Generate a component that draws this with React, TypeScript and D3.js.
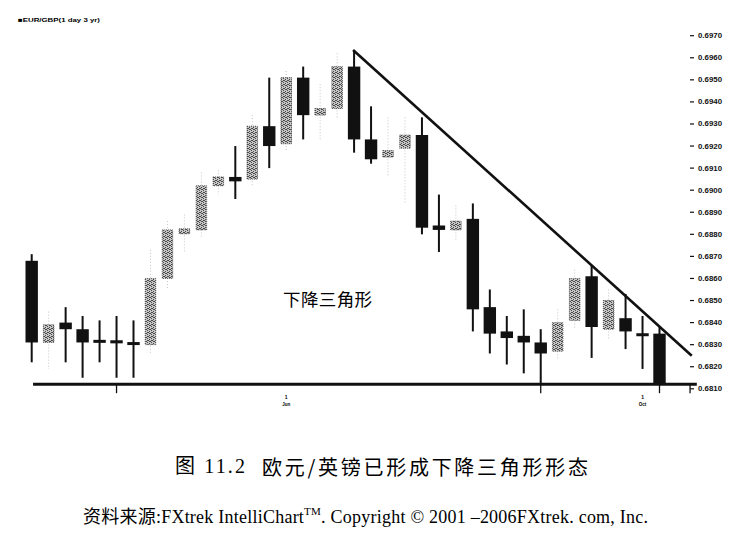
import React from "react";
import * as d3 from "d3";

// EUR/GBP daily candles (left to right)
const opens = [0.6868, 0.6831, 0.6840, 0.6837, 0.6832, 0.6832, 0.6831, 0.6830, 0.6860, 0.68815,
    0.6882, 0.6902, 0.6906, 0.6905, 0.6929, 0.6921, 0.6951, 0.6934, 0.6937, 0.6956,
    0.6923, 0.6915, 0.6919, 0.6925, 0.6884, 0.6882, 0.6887, 0.6847, 0.6836, 0.6834,
    0.6831, 0.6827, 0.6841, 0.6861, 0.6837, 0.6842, 0.6835, 0.6835];
const highs = [0.6871, 0.6845, 0.6847, 0.6843, 0.6841, 0.6843, 0.6841, 0.6873, 0.6886, 0.6889,
    0.6908, 0.6909, 0.6920, 0.6934, 0.6951, 0.6954, 0.6956, 0.6948, 0.6962, 0.69635,
    0.6938, 0.6933, 0.6933, 0.6933, 0.6898, 0.6893, 0.6894, 0.6855, 0.6843, 0.6846,
    0.6837, 0.6846, 0.6864, 0.6866, 0.6855, 0.6853, 0.6843, 0.6838];
const lows = [0.6822, 0.6819, 0.6822, 0.6815, 0.6822, 0.6815, 0.6815, 0.6826, 0.6855, 0.6872,
    0.6879, 0.6898, 0.6896, 0.6902, 0.6910, 0.6918, 0.6923, 0.6923, 0.6933, 0.6917,
    0.6912, 0.6906, 0.6894, 0.6880, 0.6872, 0.6877, 0.6836, 0.6826, 0.6821, 0.6817,
    0.6812, 0.6823, 0.6837, 0.6824, 0.6832, 0.6828, 0.6819, 0.6812];
const closes = [0.6831, 0.6839, 0.6837, 0.6831, 0.6831, 0.68306, 0.6830, 0.6860, 0.6882, 0.68825,
    0.6902, 0.6906, 0.6904, 0.6929, 0.6920, 0.6951, 0.6934, 0.6937, 0.6956, 0.6923,
    0.6914, 0.6918, 0.6925, 0.6883, 0.6882, 0.6886, 0.6846, 0.6835, 0.6833, 0.6831,
    0.6826, 0.6840, 0.6860, 0.6838, 0.6850, 0.6836, 0.6834, 0.6812];

// pattern lines: [candle index, price]
const supportLine = [[0.08, 0.68121], [39.2, 0.68121]];
const resistanceLine = [[18.94, 0.69635], [38.9, 0.6825]];

const priceTicks = d3.range(0, 17).map(i => 0.6810 + i * 0.001);
const dateTickIdx = [5, 30, 37, 38.8];
const dateLabelIdx = [15, 36];
const dateLabelTop = ["1", "1"];
const dateLabelBottom = ["Jun", "Oct"];

const chartTitle = "■EUR/GBP(1 day 3 yr)";
const patternLabel = "下降三角形";
const figureNo = "图 11.2";
const figureCaption = "欧元/英镑已形成下降三角形形态";

export default class App extends React.Component {
    public render() {
        return <svg id="candles" width={751} height={536}
            style={{ position: "absolute", left: 0, top: 0, background: "#fff" }}></svg>;
    }

    public componentDidMount() {
        this.draw();
    }

    private draw = (): void => {
        const svg = d3.select("#candles");
        svg.selectAll("*").remove();

        const x = d3.scaleLinear().domain([0, opens.length - 1]).range([31.7, 659.5]);
        const y = d3.scaleLinear().domain([0.6810, 0.6970]).range([388.8, 35.7]);

        // speckled fill for the up candles
        const pat = svg.append("defs").append("pattern")
            .attr("id", "speck").attr("patternUnits", "userSpaceOnUse")
            .attr("width", 4).attr("height", 4);
        pat.append("rect").attr("width", 4).attr("height", 4).attr("fill", "#c6c6c6");
        [[0, 0], [2, 1], [1, 3], [3, 2], [1, 1], [3, 0]].forEach(([px, py]) => {
            pat.append("rect").attr("x", px).attr("y", py).attr("width", 1).attr("height", 1).attr("fill", "#4a4a4a");
        });

        const data = opens.map((o, i) => ({ i, o, h: highs[i], l: lows[i], c: closes[i] }));
        const down = data.filter(d => d.c < d.o);
        const up = data.filter(d => d.c >= d.o);

        // up candles: faint dotted wicks, speckled bodies
        svg.append("g").selectAll("line").data(up).enter().append("line")
            .attr("x1", d => x(d.i)).attr("x2", d => x(d.i))
            .attr("y1", d => y(d.h)).attr("y2", d => y(d.l))
            .attr("stroke", "#c4c4c4").attr("stroke-width", 1).attr("stroke-dasharray", "1,2");
        svg.append("g").selectAll("rect").data(up).enter().append("rect")
            .attr("x", d => x(d.i) - 5.3).attr("width", 10.6)
            .attr("y", d => y(d.c))
            .attr("height", d => Math.max(5, y(d.o) - y(d.c)))
            .attr("fill", "url(#speck)")
            .attr("stroke", "#444").attr("stroke-width", 0.8).attr("stroke-dasharray", "1,1");

        // down candles: solid black
        svg.append("g").selectAll("line").data(down).enter().append("line")
            .attr("x1", d => x(d.i)).attr("x2", d => x(d.i))
            .attr("y1", d => y(d.h)).attr("y2", d => y(d.l))
            .attr("stroke", "#111").attr("stroke-width", 2);
        svg.append("g").selectAll("rect").data(down).enter().append("rect")
            .attr("x", d => x(d.i) - 6.2).attr("width", 12.4)
            .attr("y", d => Math.min(y(d.o), (y(d.o) + y(d.c)) / 2 - 1.5))
            .attr("height", d => Math.max(3, y(d.c) - y(d.o)))
            .attr("fill", "#111");

        // support + falling resistance
        const line = d3.line<number[]>().x(d => x(d[0])).y(d => y(d[1]));
        svg.append("path").attr("d", line(supportLine)).attr("stroke", "#111")
            .attr("stroke-width", 3).attr("fill", "none");
        svg.append("path").attr("d", line(resistanceLine)).attr("stroke", "#111")
            .attr("stroke-width", 2.6).attr("fill", "none");

        // price axis on the right
        const axis = svg.append("g").attr("font-family", "Liberation Sans, Arial, sans-serif")
            .attr("font-size", 7).attr("font-weight", "bold").attr("fill", "#111");
        priceTicks.forEach(t => {
            axis.append("line").attr("x1", 690).attr("x2", 694).attr("y1", y(t)).attr("y2", y(t))
                .attr("stroke", "#111").attr("stroke-width", 1.2);
            axis.append("text").attr("x", 698).attr("y", y(t)).attr("dominant-baseline", "central")
                .attr("textLength", 24).attr("lengthAdjust", "spacingAndGlyphs")
                .text(d3.format(".4f")(t));
        });

        // date axis ticks + tiny labels
        dateTickIdx.forEach(t => {
            svg.append("line").attr("x1", x(t)).attr("x2", x(t))
                .attr("y1", y(supportLine[0][1])).attr("y2", y(supportLine[0][1]) + 9)
                .attr("stroke", "#111").attr("stroke-width", 1.3);
        });
        dateLabelIdx.forEach((t, k) => {
            svg.append("text").attr("x", x(t)).attr("y", 399).attr("text-anchor", "middle")
                .attr("font-family", "Liberation Sans, sans-serif").attr("font-size", 5).attr("font-weight", "bold")
                .text(dateLabelTop[k]);
            svg.append("text").attr("x", x(t)).attr("y", 406).attr("text-anchor", "middle")
                .attr("font-family", "Liberation Sans, sans-serif").attr("font-size", 4.5).attr("font-weight", "bold")
                .text(dateLabelBottom[k]);
        });

        svg.append("text").attr("x", 18).attr("y", 22)
            .attr("font-family", "Liberation Sans, sans-serif").attr("font-size", 6.2).attr("font-weight", "bold")
            .attr("textLength", 82).attr("lengthAdjust", "spacingAndGlyphs")
            .text(chartTitle);

        svg.append("text").attr("x", 283).attr("y", 298).attr("dominant-baseline", "central")
            .attr("font-family", "Noto Sans CJK SC, sans-serif").attr("font-size", 17.5)
            .attr("textLength", 89).text(patternLabel);

        // caption
        svg.append("text").attr("x", 175).attr("y", 466).attr("dominant-baseline", "central")
            .attr("font-family", "Liberation Serif, Noto Sans CJK SC, serif").attr("font-size", 20)
            .attr("textLength", 70).text(figureNo);
        svg.append("text").attr("x", 262).attr("y", 466).attr("dominant-baseline", "central")
            .attr("font-family", "Noto Sans CJK SC, sans-serif").attr("font-size", 20)
            .attr("textLength", 326).text(figureCaption);

        const src = svg.append("text").attr("x", 83).attr("y", 517).attr("dominant-baseline", "central")
            .attr("font-family", "Liberation Serif, Noto Sans CJK SC, serif").attr("font-size", 18)
            .attr("textLength", 565).attr("lengthAdjust", "spacing");
        src.append("tspan").text("资料来源:FXtrek IntelliChart");
        src.append("tspan").attr("font-size", 11).attr("dy", -6).text("TM");
        src.append("tspan").attr("dy", 6).text(". Copyright © 2001 –2006FXtrek. com, Inc.");
    }
}
